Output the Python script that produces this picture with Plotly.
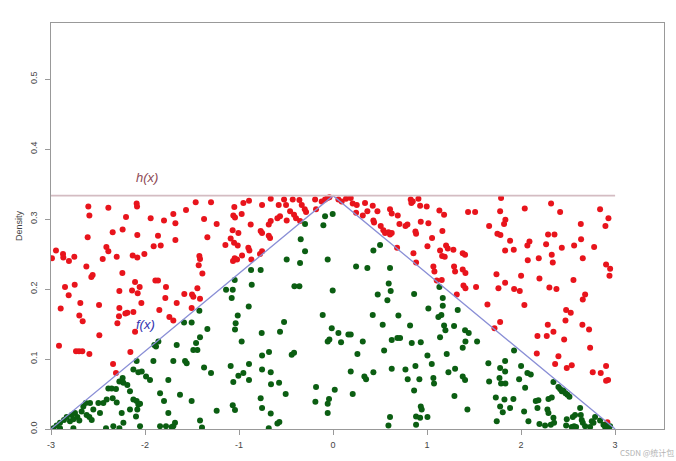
import plotly.graph_objects as go

# accepted samples (below f)
green_x = [
    -2.975, -2.94, -2.904, -2.862, -2.833, -2.798, -2.78, -2.762, -2.745, -2.72,
    -2.699, -2.674, -2.656, -2.631, -2.621, -2.592, -2.567, -2.55, -2.479, -2.443,
    -2.39, -2.355, -2.309, -2.344, -2.301, -2.273, -2.238, -2.23, -2.188, -2.16,
    -2.248, -2.23, -2.16, -2.124, -2.089, -2.071, -2.053, -2.082, -2.096, -2.053,
    -2.124, -2.071, -2.035, -2.089, -1.911, -1.901, -1.858, -1.883, -1.752, -1.699,
    -1.663, -1.574, -1.557, -1.585, -1.504, -1.84, -1.798, -1.752, -1.699, -1.628,
    -1.504, -1.777, -1.681, -1.716, -1.84, -1.947, -1.989, -2.408, -2.496, -2.585,
    -2.337, -2.415, -2.273, -2.904, -2.762,
    -0.085, -0.004, -0.103, -0.298, -0.344, -0.298, -0.351, -0.493, -0.057, -0.872,
    -0.77, -1.046, -1.138, -1.067, -1.078, -0.865, -0.411, -0.358, -0.004, -0.897,
    -1.422, -1.014, -1.036, -1.043, -1.337, -1.415, -1.457, -1.486, -1.443, -0.972,
    -0.759, -0.564, -0.521, -0.11, -0.014, 0.057, -0.039, -0.057, 0.085, -0.755,
    -0.681, -0.44, -0.415, -1.372, -1.298, -1.089, -1.061, -1.007, -0.954, -0.894,
    -0.894, -0.755, -0.663, -0.66, -0.574, -0.504, -0.181, 0.018, -1.238, -1.067,
    -1.043, -0.77, -0.755, -0.663, -0.188, -0.057, -0.043, -0.057, -1.415, -1.394,
    -0.684, -0.592, -0.571,
    0.429, 0.5, 0.245, 0.365, 0.606, 0.592, 0.613, 0.475, 0.578, 0.862,
    1.131, 1.167, 1.167, 1.014, 1.326, 0.422, 0.695, 0.528, 0.819, 1.12,
    1.152, 1.181, 1.195, 1.287, 1.404, 1.443, 1.138, 1.532, 0.163, 0.188,
    0.316, 0.624, 0.684, 0.713, 0.837, 0.933, 0.543, 0.259, 1.004, 1.209,
    1.379, 1.408, 1.05, 0.876, 0.77, 0.624, 0.429, 0.333, 0.351, 0.188,
    0.918, 0.794, 1.067, 1.074, 1.227, 1.298, 1.379, 1.404, 1.652, 1.66,
    0.862, 0.209, 1.291, 1.429, 0.933, 0.943, 0.606, 0.589, 0.883, 0.926,
    1.004, 0.883,
    1.925, 1.83, 1.777, 1.83, 2.0, 2.067, 2.103, 1.77, 1.787, 1.833,
    1.979, 2.043, 1.731, 1.823, 1.918, 1.777, 1.805, 1.883, 2.032, 2.156,
    2.184, 2.291, 2.326, 2.28, 2.291, 2.174, 2.344, 2.397, 2.415, 2.433,
    2.45, 2.472, 2.493, 2.514, 1.741, 2.078, 2.195, 2.255, 2.316, 2.344,
    2.351, 2.486, 2.479, 2.539, 2.564, 2.628, 2.635, 2.645, 2.656, 2.681,
    2.734, 2.752, 2.77, 2.787, 2.84, 2.876, 2.894, 2.911, 2.933, 2.947,
    2.574, 2.585, 2.55,
]
green_y = [
    0.001, 0.005, 0.009, 0.013, 0.017, 0.011, 0.02, 0.014, 0.023, 0.017,
    0.012, 0.025, 0.032, 0.037, 0.02, 0.017, 0.013, 0.028, 0.023, 0.037,
    0.058, 0.058, 0.057, 0.044, 0.038, 0.068, 0.073, 0.066, 0.063, 0.054,
    0.023, 0.009, 0.028, 0.042, 0.04, 0.035, 0.036, 0.028, 0.018, 0.004,
    0.085, 0.081, 0.082, 0.097, 0.097, 0.12, 0.125, 0.118, 0.07, 0.097,
    0.12, 0.097, 0.094, 0.152, 0.152, 0.051, 0.04, 0.023, 0.004, 0.049,
    0.04, 0.004, 0.009, 0.003, 0.004, 0.07, 0.075, 0.042, 0.037, 0.037,
    0.004, 0.001, 0.001, 0.001, 0.001,
    0.304, 0.307, 0.291, 0.293, 0.271, 0.254, 0.237, 0.242, 0.242, 0.227,
    0.227, 0.213, 0.199, 0.199, 0.187, 0.206, 0.204, 0.204, 0.198, 0.175,
    0.169, 0.162, 0.151, 0.142, 0.143, 0.131, 0.123, 0.113, 0.113, 0.125,
    0.137, 0.139, 0.153, 0.163, 0.144, 0.137, 0.128, 0.125, 0.124, 0.105,
    0.11, 0.106, 0.109, 0.088, 0.08, 0.09, 0.067, 0.076, 0.08, 0.07,
    0.093, 0.085, 0.081, 0.064, 0.066, 0.05, 0.06, 0.056, 0.026, 0.034,
    0.027, 0.044, 0.03, 0.022, 0.039, 0.036, 0.043, 0.023, 0.012, 0.002,
    0.001, 0.008, 0.01,
    0.255, 0.263, 0.232, 0.23, 0.23, 0.208, 0.197, 0.192, 0.184, 0.193,
    0.203, 0.187, 0.176, 0.172, 0.17, 0.163, 0.162, 0.149, 0.148, 0.16,
    0.163, 0.148, 0.141, 0.147, 0.141, 0.137, 0.131, 0.125, 0.135, 0.135,
    0.125, 0.127, 0.13, 0.13, 0.123, 0.124, 0.112, 0.107, 0.105, 0.107,
    0.116, 0.125, 0.093, 0.09, 0.085, 0.086, 0.081, 0.075, 0.071, 0.082,
    0.071, 0.071, 0.073, 0.065, 0.081, 0.086, 0.075, 0.07, 0.094, 0.068,
    0.055, 0.05, 0.047, 0.028, 0.032, 0.028, 0.017, 0.005, 0.018, 0.016,
    0.017, 0.006,
    0.112, 0.097, 0.087, 0.082, 0.09, 0.08, 0.078, 0.073, 0.065, 0.065,
    0.071, 0.059, 0.045, 0.042, 0.043, 0.032, 0.024, 0.03, 0.025, 0.04,
    0.041, 0.043, 0.045, 0.028, 0.023, 0.03, 0.067, 0.06, 0.057, 0.054,
    0.055, 0.051, 0.049, 0.046, 0.011, 0.011, 0.007, 0.005, 0.006, 0.016,
    0.009, 0.014, 0.005, 0.003, 0.004, 0.03, 0.02, 0.013, 0.009, 0.004,
    0.003, 0.011, 0.009, 0.017, 0.012, 0.006, 0.003, 0.005, 0.003, 0.004,
    0.02, 0.003, 0.017,
]

# rejected samples (between f and h)
red_x = [
    -2.603, -2.592, -2.39, -2.089, -2.085, -1.94, -1.798, -1.699, -1.677, -1.564,
    -2.202, -2.344, -2.238, -2.61, -2.082, -1.862, -1.677, -2.947, -2.872, -2.869,
    -2.809, -2.752, -2.99, -2.411, -2.39, -2.45, -2.301, -2.131, -2.082, -2.007,
    -1.908, -1.833, -2.624, -2.557, -2.571, -2.241, -2.851, -2.812, -2.748, -2.897,
    -2.688, -2.699, -2.663, -2.489, -2.273, -2.138, -2.106, -2.057, -2.078, -1.89,
    -1.862, -1.777, -1.784, -2.273, -2.277, -2.294, -2.209, -2.188, -2.124, -2.039,
    -1.848, -1.741, -1.699, -1.663, -1.582, -1.5, -1.486, -2.486, -2.106, -2.915,
    -2.734, -2.702, -2.667, -2.592, -2.156, -2.34, -2.309,
    -1.461, -1.298, -1.372, -1.238, -1.05, -0.954, -0.894, -0.755, -0.663, -0.578,
    -0.521, -0.5, -0.429, -0.358, -0.333, -0.301, -0.287, -0.191, -0.181, -0.121,
    -0.085, -0.06, -0.039, 0.057, 0.092, -1.061, -1.043, -0.972, -0.876, -0.77,
    -0.755, -0.684, -0.663, -0.592, -0.564, -0.493, -0.457, -0.415, -0.394, -0.351,
    -1.068, -1.007, -1.089, -1.053, -1.337, -1.145, -1.014, -0.901, -0.89, -0.968,
    -1.046, -1.064, -1.021, -0.869, -0.777, -0.755, -0.684, -0.67, -1.422, -1.415,
    -1.429, -1.39, -1.443, -1.415, -1.504,
    0.138, 0.188, 0.209, 0.252, 0.245, 0.316, 0.34, 0.365, 0.422, 0.429,
    0.436, 0.472, 0.507, 0.535, 0.553, 0.589, 0.606, 0.624, 0.606, 0.624,
    0.688, 0.706, 0.77, 0.791, 0.826, 0.848, 0.833, 0.908, 0.926, 0.933,
    0.996, 1.014, 0.876, 0.883, 1.131, 1.181, 1.163, 1.053, 1.004, 0.855,
    0.883, 1.138, 1.202, 1.22, 1.16, 1.188, 1.28, 1.379, 1.404, 1.287,
    1.298, 1.379, 1.408, 1.067, 1.078, 1.103, 1.156, 1.387, 1.408, 1.521,
    1.316, 1.436, 1.511, 1.66, 1.642, 0.681, 1.717,
    1.787, 1.777, 1.833, 1.819, 2.039, 2.319, 2.415, 2.84, 2.929, 2.897,
    2.635, 1.748, 1.78, 1.883, 1.83, 1.922, 2.089, 2.067, 2.071, 2.188,
    2.266, 2.287, 2.355, 2.326, 2.337, 2.433, 2.564, 2.638, 2.656, 2.777,
    2.904, 2.947, 2.94, 1.738, 1.759, 1.83, 1.926, 1.986, 2.0, 2.195,
    2.301, 2.376, 2.557, 2.681, 2.656, 2.035, 2.479, 2.528, 2.472, 2.284,
    2.174, 2.273, 2.344, 2.652, 2.723, 2.458, 1.777, 2.734, 2.397, 2.167,
    2.362, 2.486, 2.539, 2.762, 2.847, 2.904, 2.904, 2.925, 2.918,
]
red_y = [
    0.318, 0.305, 0.316, 0.322, 0.318, 0.301, 0.298, 0.307, 0.294, 0.313,
    0.303, 0.281, 0.285, 0.274, 0.277, 0.276, 0.27, 0.255, 0.25, 0.245,
    0.24, 0.246, 0.244, 0.26, 0.254, 0.243, 0.246, 0.248, 0.245, 0.25,
    0.261, 0.262, 0.232, 0.22, 0.217, 0.223, 0.203, 0.191, 0.206, 0.172,
    0.18, 0.162, 0.154, 0.177, 0.197, 0.198, 0.21, 0.203, 0.194, 0.212,
    0.212, 0.203, 0.187, 0.173, 0.161, 0.151, 0.165, 0.166, 0.167, 0.18,
    0.17, 0.16, 0.155, 0.18, 0.193, 0.192, 0.189, 0.134, 0.139, 0.119,
    0.111, 0.111, 0.111, 0.107, 0.11, 0.093, 0.08,
    0.324, 0.324, 0.3, 0.293, 0.317, 0.323, 0.326, 0.32, 0.329, 0.32,
    0.328, 0.32, 0.328, 0.327, 0.32, 0.314, 0.31, 0.328, 0.314, 0.325,
    0.328, 0.33, 0.331, 0.328, 0.325, 0.305, 0.302, 0.307, 0.292, 0.283,
    0.28, 0.292, 0.297, 0.301, 0.304, 0.298, 0.311, 0.306, 0.301, 0.297,
    0.284, 0.28, 0.272, 0.266, 0.274, 0.263, 0.262, 0.259, 0.255, 0.248,
    0.244, 0.24, 0.242, 0.242, 0.25, 0.254, 0.276, 0.273, 0.247, 0.243,
    0.234, 0.222, 0.201, 0.186, 0.173,
    0.329, 0.33, 0.322, 0.32, 0.309, 0.305, 0.323, 0.311, 0.319, 0.298,
    0.295, 0.311, 0.29, 0.284, 0.28, 0.281, 0.278, 0.28, 0.314, 0.308,
    0.305, 0.293, 0.29, 0.292, 0.328, 0.325, 0.323, 0.329, 0.319, 0.296,
    0.318, 0.294, 0.282, 0.279, 0.312, 0.306, 0.283, 0.273, 0.261, 0.251,
    0.238, 0.255, 0.262, 0.258, 0.247, 0.246, 0.256, 0.251, 0.249, 0.232,
    0.225, 0.228, 0.223, 0.232, 0.225, 0.212, 0.213, 0.205, 0.201, 0.203,
    0.192, 0.31, 0.31, 0.29, 0.178, 0.259, 0.144,
    0.33, 0.311, 0.299, 0.293, 0.315, 0.322, 0.31, 0.314, 0.301, 0.29,
    0.293, 0.279, 0.277, 0.269, 0.255, 0.256, 0.268, 0.262, 0.241, 0.244,
    0.264, 0.278, 0.278, 0.249, 0.238, 0.259, 0.262, 0.271, 0.244, 0.26,
    0.235, 0.229, 0.219, 0.221, 0.201, 0.209, 0.2, 0.197, 0.219, 0.215,
    0.202, 0.2, 0.213, 0.192, 0.185, 0.177, 0.17, 0.166, 0.155, 0.149,
    0.133, 0.133, 0.139, 0.149, 0.142, 0.128, 0.153, 0.116, 0.104, 0.108,
    0.093, 0.087, 0.091, 0.081, 0.08, 0.09, 0.069, 0.07, 0.0095,
]

# triangular target f(x) and flat envelope h(x)
f_x = [-3, 0, 3]
f_y = [0, 1 / 3, 0]
h_x = [-3, 3]
h_y = [1 / 3, 1 / 3]

x_ticks = [-3, -2, -1, 0, 1, 2, 3]
y_ticks = [0.0, 0.1, 0.2, 0.3, 0.4, 0.5]

fig = go.Figure()

fig.add_trace(go.Scatter(
    x=red_x, y=red_y, mode="markers",
    marker=dict(color="#e8141c", size=6, line=dict(width=0)),
    hoverinfo="skip",
))
fig.add_trace(go.Scatter(
    x=green_x, y=green_y, mode="markers",
    marker=dict(color="#0b5e12", size=6, line=dict(width=0)),
    hoverinfo="skip",
))
fig.add_trace(go.Scatter(
    x=f_x, y=f_y, mode="lines",
    line=dict(color="#8a8fd6", width=1.3),
    hoverinfo="skip",
))
fig.add_trace(go.Scatter(
    x=h_x, y=h_y, mode="lines",
    line=dict(color="#d4bcc2", width=1.6),
    hoverinfo="skip",
))

fig.add_annotation(x=-1.98, y=0.36, text="<i>h(x)</i>", showarrow=False,
                   font=dict(size=13, color="#8e4a55", family="Liberation Sans"))
fig.add_annotation(x=-1.99, y=0.149, text="<i>f(x)</i>", showarrow=False,
                   font=dict(size=13, color="#3434b0", family="Liberation Sans"))
fig.add_annotation(x=-0.0636, y=0.5, xref="paper", yref="paper", textangle=-90,
                   text="Density", showarrow=False,
                   font=dict(size=9, color="#444", family="Liberation Sans"))
# watermark, kept just right of the "3" tick label
fig.add_annotation(x=0.9266, y=-0.0739, xref="paper", yref="paper",
                   xanchor="left", yanchor="bottom", borderpad=0,
                   text="CSDN @统计包", showarrow=False,
                   font=dict(size=8, color="#b4b4b4", family="Noto Sans CJK SC"))

fig.update_layout(
    width=676, height=461,
    margin=dict(l=51, r=12, t=23, b=32),
    plot_bgcolor="white", paper_bgcolor="white",
    showlegend=False,
    font=dict(family="Liberation Sans", size=9, color="#444"),
)
fig.update_xaxes(
    range=[-3, 3.52], tickvals=x_ticks, ticktext=[str(v) for v in x_ticks],
    showgrid=False, zeroline=False, automargin=False,
    showline=True, mirror=True, linecolor="#999", linewidth=1.2,
    ticks="outside", ticklen=5, tickcolor="#999", ticklabelstandoff=2,
)
fig.update_yaxes(
    range=[0, 0.58], tickvals=y_ticks, ticktext=[f"{v:.1f}" for v in y_ticks],
    tickangle=-90, showgrid=False, zeroline=False, automargin=False,
    showline=True, mirror=True, linecolor="#999", linewidth=1.2,
    ticks="outside", ticklen=5, tickcolor="#999", ticklabelstandoff=4,
)

# drop the default body margin so the figure fills the window exactly
fig.write_html("out.html", config={"displayModeBar": False},
               post_script="document.body.style.margin='0';")
